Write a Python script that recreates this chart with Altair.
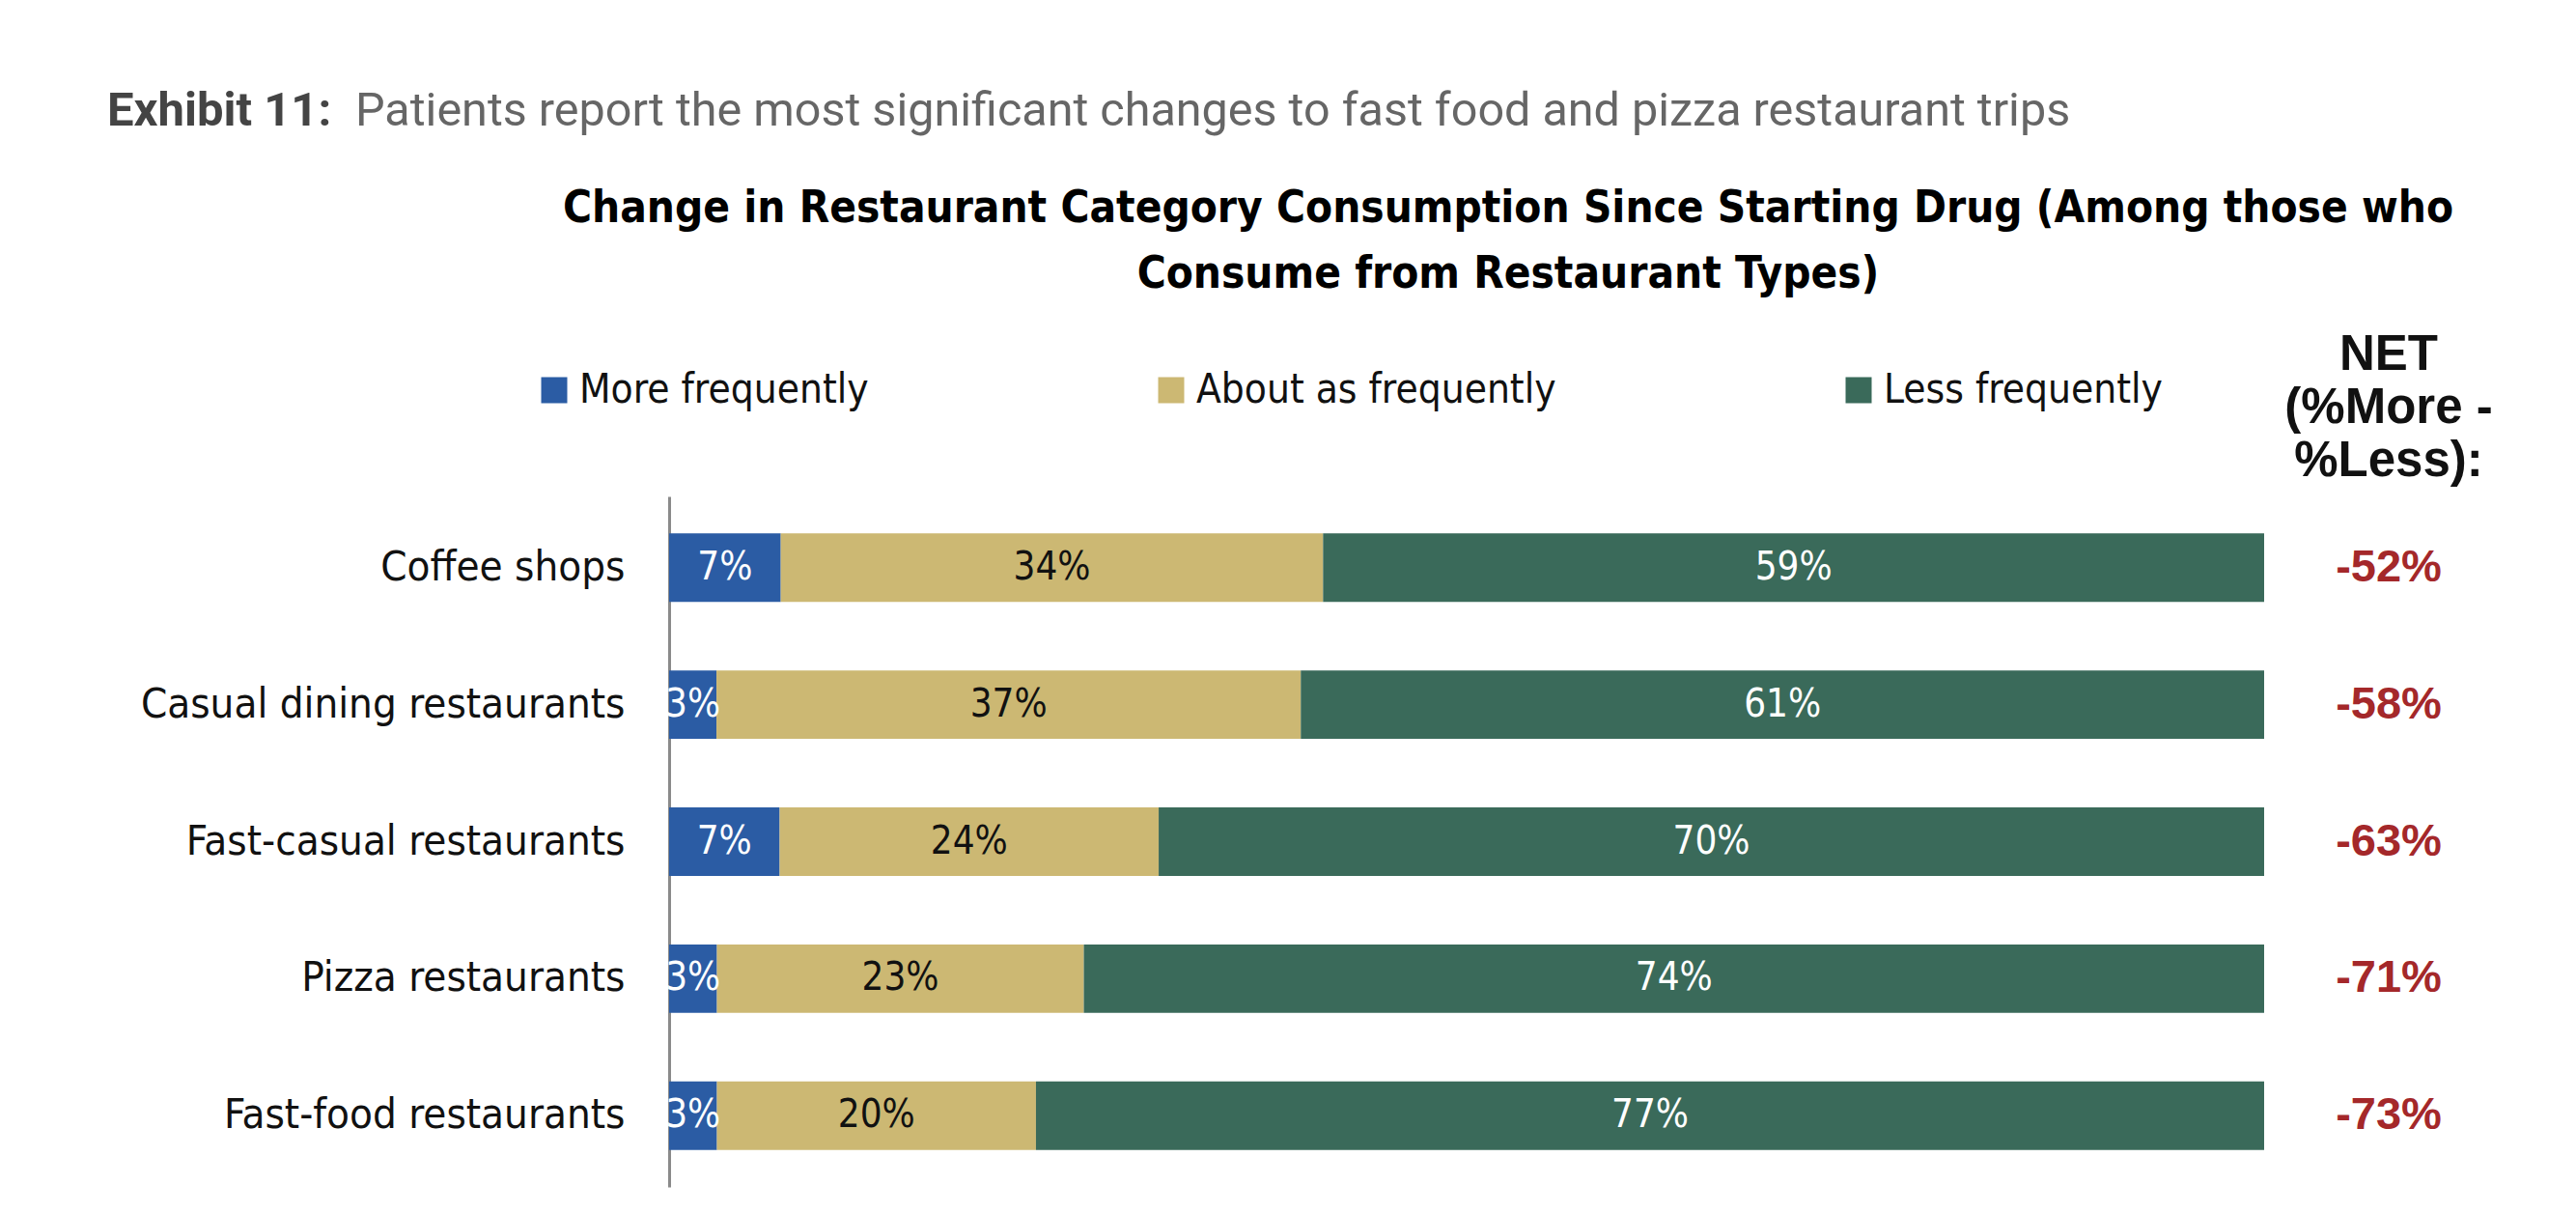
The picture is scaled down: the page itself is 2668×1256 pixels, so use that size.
import altair as alt
import pandas as pd

categories = ["Coffee shops", "Casual dining restaurants", "Fast-casual restaurants",
              "Pizza restaurants", "Fast-food restaurants"]
series = ["More frequently", "About as frequently", "Less frequently"]
more = [7, 3, 7, 3, 3]
about = [34, 37, 24, 23, 20]
less = [59, 61, 70, 74, 77]
net = ["-52%", "-58%", "-63%", "-71%", "-73%"]

colors = ["#2B5CA4", "#CCB873", "#3A6A5A"]
NARROW = "Liberation Sans Narrow, DejaVu Sans Condensed, sans-serif"

rows = []
for i, c in enumerate(categories):
    for j, (s, vals) in enumerate(zip(series, [more, about, less])):
        rows.append({"category": c, "series": s, "order": j, "value": vals[i]})
df = pd.DataFrame(rows)
net_df = pd.DataFrame({"category": categories, "net": net})

W, H = 1652, 715

ycat = alt.Y("category:N", sort=categories,
             scale=alt.Scale(paddingInner=0.5, paddingOuter=0.27),
             axis=alt.Axis(title=None, ticks=False, labelPadding=46, labelFont=NARROW,
                           labelFontSize=43.5, labelColor="#111111", domainColor="#8a8a8a",
                           domainWidth=3, labelLimit=800))

base = alt.Chart(df).transform_stack(
    stack="value", groupby=["category"], as_=["v0", "v1"],
    sort=[alt.SortField("order", "ascending")], offset="normalize"
).transform_calculate(mid="(datum.v0 + datum.v1) / 2", label="datum.value + '%'")

bars = base.mark_bar().encode(
    y=ycat,
    x=alt.X("v0:Q", scale=alt.Scale(domain=[0, 1]), axis=None),
    x2="v1:Q",
    color=alt.Color("series:N", sort=series,
                    scale=alt.Scale(domain=series, range=colors),
                    legend=alt.Legend(title=None, orient="none", direction="horizontal",
                                      legendX=-140, legendY=-131, symbolType="square",
                                      symbolSize=729, symbolStrokeWidth=0, labelFont=NARROW,
                                      labelFontSize=42, labelColor="#111111", labelOffset=5,
                                      columnPadding=292, padding=0, labelLimit=800)),
)

labels = base.mark_text(font=NARROW, fontSize=40, baseline="middle", align="center").encode(
    y=alt.Y("category:N", sort=categories),
    x=alt.X("mid:Q"),
    text="label:N",
    color=alt.condition(alt.datum.series == "About as frequently",
                        alt.value("#111111"), alt.value("white")),
)

net_text = alt.Chart(net_df).mark_text(font="Liberation Sans, Arial, sans-serif", fontWeight="bold",
                                       fontSize=47, color="#A4282A", align="center",
                                       baseline="middle").encode(
    y=alt.Y("category:N", sort=categories),
    x=alt.value(1781),
    text="net:N",
)

hdr = pd.DataFrame({"k": [0]})
net_head = alt.Chart(hdr).mark_text(font="Liberation Sans, Arial, sans-serif", fontWeight="bold",
                                    fontSize=51, color="#111111", align="center",
                                    baseline="alphabetic", lineHeight=55).encode(
    x=alt.value(1781), y=alt.value(-131), text=alt.value(["NET", "(%More -", "%Less):"]))

title = alt.Chart(hdr).mark_text(font=NARROW, fontWeight="bold", fontSize=45.5, color="#000000",
                                 align="center", baseline="alphabetic", lineHeight=68).encode(
    x=alt.value(869), y=alt.value(-284),
    text=alt.value(["Change in Restaurant Category Consumption Since Starting Drug (Among those who",
                    "Consume from Restaurant Types)"]))

exhibit = alt.Chart(hdr).mark_text(font="Roboto", fontWeight="bold", fontSize=49, color="#444444",
                                   align="left", baseline="alphabetic").encode(
    x=alt.value(-582), y=alt.value(-384), text=alt.value("Exhibit 11:"))

subtitle = alt.Chart(hdr).mark_text(font="Roboto", fontSize=48.5, color="#666666",
                                    align="left", baseline="alphabetic").encode(
    x=alt.value(-325), y=alt.value(-384),
    text=alt.value("Patients report the most significant changes to fast food and pizza restaurant trips"))

chart = alt.layer(bars, labels, net_text, net_head, title, exhibit, subtitle).properties(
    width=W, height=H,
    background="white",
    autosize=alt.AutoSizeParams(type="none"),
    padding={"left": 685, "top": 506, "right": 315, "bottom": 19},
).configure_view(stroke=None)

chart.save("out.html", embed_options={"renderer": "svg", "actions": False})
